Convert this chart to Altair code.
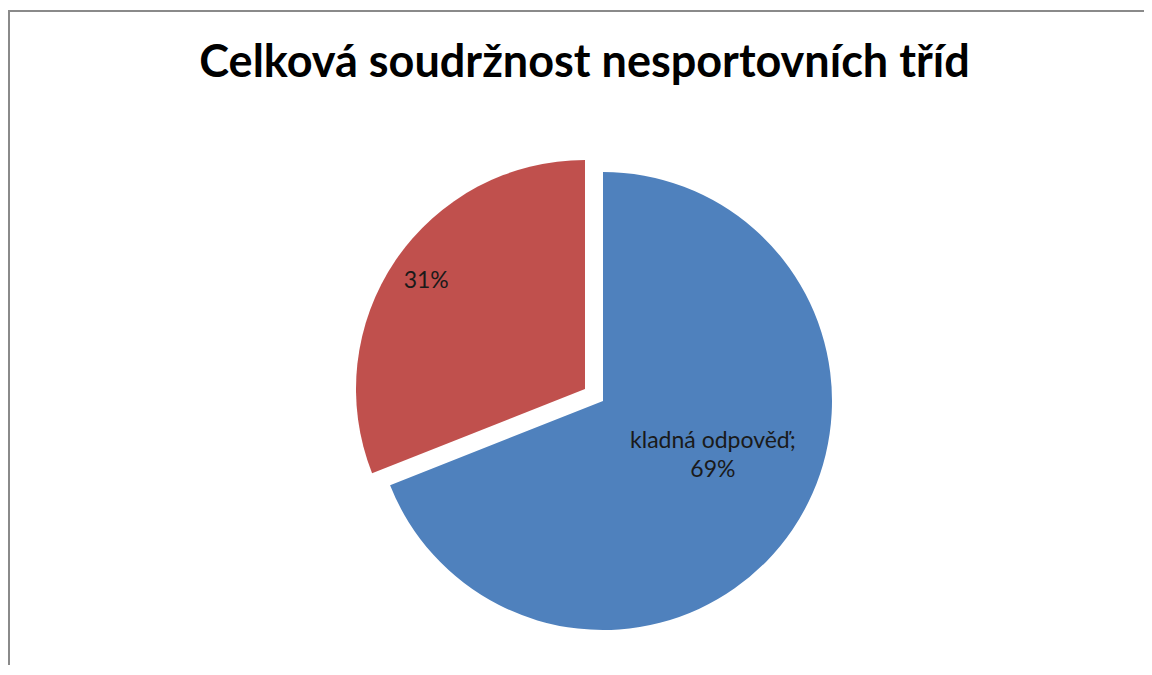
import math
import altair as alt
import pandas as pd

# ---- data ----
categories = ["kladná odpověď", "záporná odpověď"]
values = [69, 31]
labels = ["kladná odpověď;\n69%", "31%"]
colors = ["#4F81BD", "#C0504D"]
title_text = ["Celková soudržnost nesportovních tříd"]

df = pd.DataFrame({
    "idx": list(range(len(categories))),
    "category": categories,
    "value": values,
    "label": labels,
})

W, H = 1136, 657
R = 229
theta_scale = alt.Scale(domain=[0, 100], range=[0, 2 * math.pi], zero=True)
color_scale = alt.Scale(domain=categories, range=colors)

base = (
    alt.Chart(df)
    .transform_window(cum="sum(value)", sort=[{"field": "idx"}], frame=[None, 0])
    .transform_calculate(start="datum.cum - datum.value",
                         mid="datum.cum - datum.value / 2")
)

# centers of the two slices (second slice is exploded)
centers = {0: (595, 393), 1: (577, 381)}
label_radius = {0: 122, 1: 192}
label_dxdy = {0: (9, -29), 1: (0, 0)}

layers = []
for i in range(len(categories)):
    cx, cy = centers[i]
    arc = (
        base.transform_filter(f"datum.idx == {i}")
        .mark_arc(outerRadius=R, stroke=None)
        .encode(
            theta=alt.Theta("start:Q", scale=theta_scale),
            theta2="cum:Q",
            color=alt.Color("category:N", scale=color_scale, legend=None),
            x=alt.value(cx),
            y=alt.value(cy),
        )
    )
    dx, dy = label_dxdy[i]
    txt = (
        base.transform_filter(f"datum.idx == {i}")
        .mark_text(radius=label_radius[i], font="Lato", fontSize=23,
                   color="#1a1a1a", lineBreak="\n", lineHeight=29,
                   align="center", baseline="middle", dx=dx, dy=dy)
        .encode(
            theta=alt.Theta("mid:Q", scale=theta_scale),
            text="label:N",
            x=alt.value(cx),
            y=alt.value(cy),
        )
    )
    layers += [arc, txt]

one = pd.DataFrame({"a": [0]})
border_v = alt.Chart(one).mark_rule(color="#8a8a8a", strokeWidth=2).encode(
    x=alt.value(1), y=alt.value(3), y2=alt.value(H))
border_h = alt.Chart(one).mark_rule(color="#8a8a8a", strokeWidth=2).encode(
    x=alt.value(0), x2=alt.value(W), y=alt.value(3))

title = alt.Chart(pd.DataFrame({"t": title_text})).mark_text(
    font="Lato", fontSize=45, fontWeight="bold", color="#000000",
    align="center", baseline="alphabetic",
).encode(text="t:N", x=alt.value(576.5), y=alt.value(69))

chart = (
    alt.layer(*layers, border_v, border_h, title)
    .properties(
        width=W, height=H,
        autosize=alt.AutoSizeParams(type="none"),
        padding=0,
    )
    .configure_view(stroke=None)
)

chart.save("out.html", embed_options={"renderer": "svg", "actions": False})
